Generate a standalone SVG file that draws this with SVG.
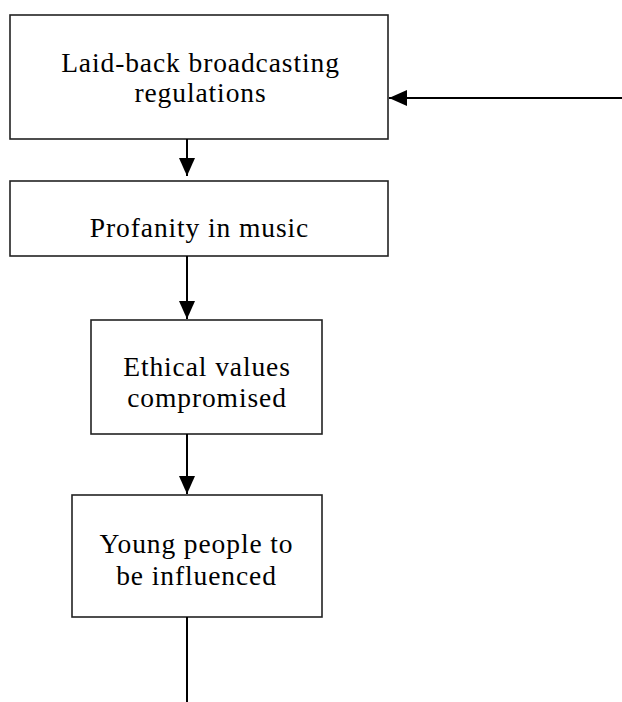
<svg xmlns="http://www.w3.org/2000/svg" width="622" height="702" viewBox="0 0 622 702">
<style>
.box{fill:#fff;stroke:#222;stroke-width:1.6}
.t{font-family:"Liberation Serif","Times New Roman",serif;font-size:27.5px;letter-spacing:0.9px;fill:#000;text-anchor:middle}
.c{stroke:#000;stroke-width:2;fill:none}
</style>
<defs>
<marker id="ah" markerUnits="userSpaceOnUse" markerWidth="20" markerHeight="18" refX="18" refY="8" orient="auto">
<path d="M0,0 L18,8 L0,16 Z" fill="#000"/>
</marker>
</defs>
<rect width="622" height="702" fill="#fff"/>
<g id="n1">
<rect class="box" x="10" y="15" width="378" height="124"/>
<text class="t" x="200.5" y="72">Laid-back broadcasting</text>
<text class="t" x="200.5" y="102">regulations</text>
</g>
<g id="n2">
<rect class="box" x="10" y="181" width="378" height="75"/>
<text class="t" x="199.5" y="237">Profanity in music</text>
</g>
<g id="n3">
<rect class="box" x="91" y="320" width="231" height="114"/>
<text class="t" x="207" y="376">Ethical values</text>
<text class="t" x="207" y="407">compromised</text>
</g>
<g id="n4">
<rect class="box" x="72" y="495" width="250" height="122"/>
<text class="t" x="196.5" y="553">Young people to</text>
<text class="t" x="196.5" y="585">be influenced</text>
</g>
<g id="connectors">
<line class="c" x1="622" y1="98" x2="389" y2="98" marker-end="url(#ah)"/>
<line class="c" x1="187" y1="139" x2="187" y2="176" marker-end="url(#ah)"/>
<line class="c" x1="187" y1="256" x2="187" y2="319" marker-end="url(#ah)"/>
<line class="c" x1="187" y1="434" x2="187" y2="494" marker-end="url(#ah)"/>
<line class="c" x1="187" y1="617" x2="187" y2="702"/>
</g>
</svg>
